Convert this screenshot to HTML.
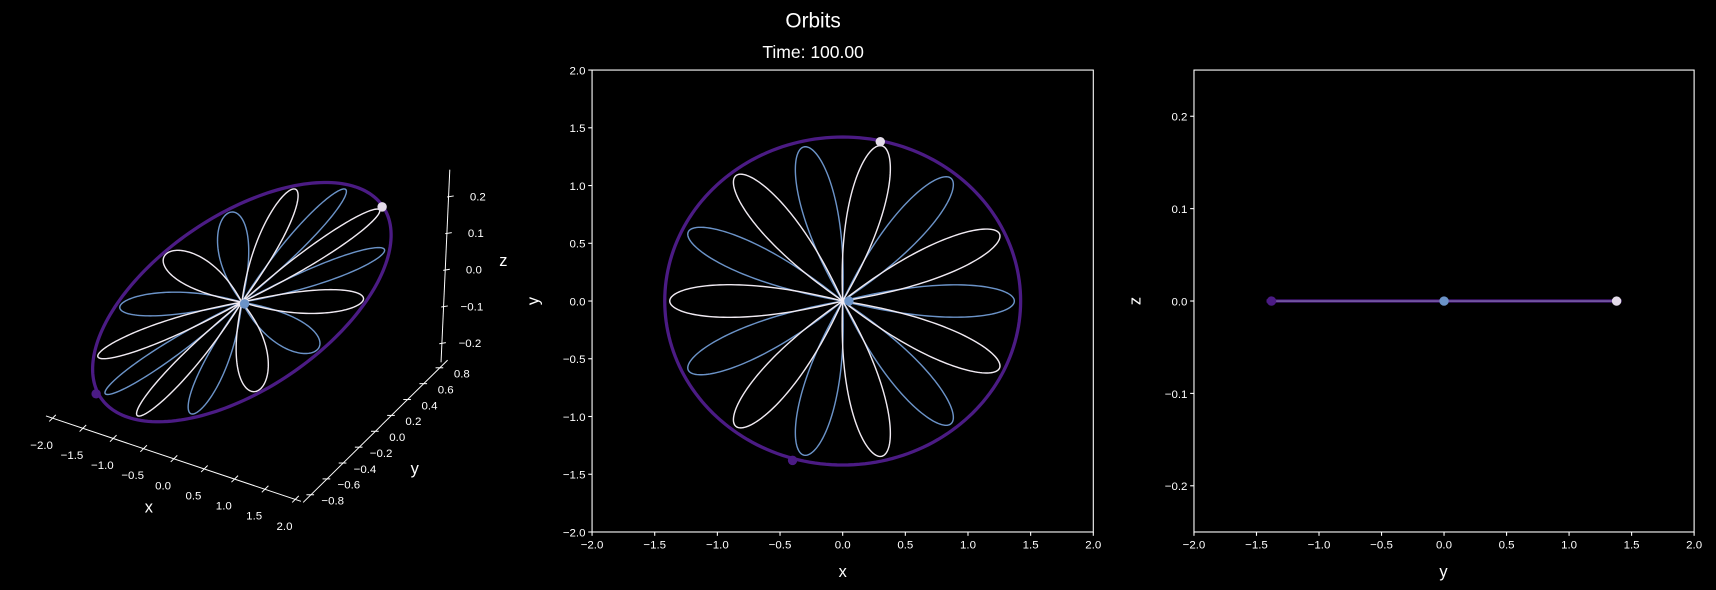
<!DOCTYPE html>
<html><head><meta charset="utf-8"><style>
html,body{margin:0;padding:0;background:#000;}
svg{display:block;font-family:"Liberation Sans","DejaVu Sans",sans-serif;}
</style></head><body>
<svg id="fig" width="1716" height="590" viewBox="0 0 1568 539" preserveAspectRatio="none" xmlns="http://www.w3.org/2000/svg">
<rect width="1568" height="539" fill="#000"/>
<text x="743" y="25" fill="#fff" font-size="19" text-anchor="middle">Orbits</text>
<text x="743" y="53" fill="#fff" font-size="16" text-anchor="middle">Time: 100.00</text>
<g id="g3d"></g>
<g id="g2d"></g>
<g id="gyz"></g>
</svg>
<script>
const whiteAngles = [25, 77, 128, 180, 232, 283, 335];
const blueAngles = [0, 51, 103, 154, 206, 257, 309];
const petalRadius = [1.38, 1.37];
const orbitRadius = [1.42];
const bodyWhite = [0.30, 1.38, 0];
const bodyBlue = [0.05, 0, 0];
const bodyPurple = [-0.40, -1.38, 0];
const xyTicks = [-2.0, -1.5, -1.0, -0.5, 0.0, 0.5, 1.0, 1.5, 2.0];
const zTicks = [-0.2, -0.1, 0.0, 0.1, 0.2];
const yTicks3d = [-0.8, -0.6, -0.4, -0.2, 0.0, 0.2, 0.4, 0.6, 0.8];

const NS = 'http://www.w3.org/2000/svg';
const C_PURPLE = '#4b1b84', C_BLUE = '#6b93c8', C_WHITE = '#f0eaf2';
function el(tag, attrs, parent){const e=document.createElementNS(NS,tag);for(const k in attrs)e.setAttribute(k,attrs[k]);parent.appendChild(e);return e;}
function fmt(v){return (v<0?'\u2212':'')+Math.abs(v).toFixed(1);}
function petal(phiDeg,R){const m=6,pts=[],phi=phiDeg*Math.PI/180,lim=Math.PI/(2*m);
  for(let i=0;i<=100;i++){const t=-lim+2*lim*i/100;const r=R*Math.pow(Math.cos(m*t),0.8);pts.push([r*Math.cos(phi+t),r*Math.sin(phi+t)]);}return pts;}
function circle(R){const p=[];for(let i=0;i<=200;i++){const a=2*Math.PI*i/200;p.push([R*Math.cos(a),R*Math.sin(a)]);}return p;}
function pathOf(pts,fx,fy){return pts.map((p,i)=>(i?'L':'M')+fx(p).toFixed(2)+','+fy(p).toFixed(2)).join('');}

/* ---------- middle XY panel ---------- */
const g2=document.getElementById('g2d');
const mL=541,mR=999,mT=64,mB=486;
const mx=x=>mL+(x+2)/4*(mR-mL), my=y=>mB-(y+2)/4*(mB-mT);
{
  const f=el('rect',{x:mL,y:mT,width:mR-mL,height:mB-mT,fill:'none',stroke:'#fff','stroke-width':1},g2);
  
  
  xyTicks.forEach(v=>{
    const t=el('line',{x1:mx(v),x2:mx(v),y1:mB,y2:mB+3.5,stroke:'#fff','stroke-width':1},g2);
    
    
    const l=el('text',{x:mx(v),y:mB+15,fill:'#fff','font-size':10.5,'text-anchor':'middle'},g2);l.textContent=fmt(v);
    
    
    const t2=el('line',{x1:mL-3.5,x2:mL,y1:my(v),y2:my(v),stroke:'#fff','stroke-width':1},g2);
    
    
    const l2=el('text',{x:mL-6,y:my(v)+4,fill:'#fff','font-size':10.5,'text-anchor':'end'},g2);l2.textContent=fmt(v);
    
    
  });
  const xl=el('text',{x:770,y:527,fill:'#fff','font-size':15,'text-anchor':'middle'},g2);xl.textContent='x';
  
  
  const yl=el('text',{x:492,y:275,fill:'#fff','font-size':15,'text-anchor':'middle',transform:'rotate(-90 492 275)'},g2);yl.textContent='y';
  
  
  const fx=p=>mx(p[0]), fy=p=>my(p[1]);
  blueAngles.forEach(a=>{const p=el('path',{d:pathOf(petal(a,petalRadius[1]),fx,fy),fill:'none',stroke:C_BLUE,'stroke-width':1.3},g2);
    
    });
  whiteAngles.forEach(a=>{const p=el('path',{d:pathOf(petal(a,petalRadius[0]),fx,fy),fill:'none',stroke:C_WHITE,'stroke-width':1.3},g2);
    
    });
  const c=el('path',{d:pathOf(circle(orbitRadius[0]),fx,fy),fill:'none',stroke:C_PURPLE,'stroke-width':3},g2);
  
  
  [[bodyWhite,'#e4dcea','white-body'],[bodyBlue,C_BLUE,'blue-body'],[bodyPurple,C_PURPLE,'purple-body']].forEach(b=>{
    const d=el('circle',{cx:mx(b[0][0]),cy:my(b[0][1]),r:4.3,fill:b[1]},g2);
    
    });
}

/* ---------- right YZ panel ---------- */
const g3=document.getElementById('gyz');
const rL=1091,rR=1548;
const rx=y=>rL+(y+2)/4*(rR-rL), rz=z=>mB-(z+0.25)/0.5*(mB-mT);
{
  const f=el('rect',{x:rL,y:mT,width:rR-rL,height:mB-mT,fill:'none',stroke:'#fff','stroke-width':1},g3);
  
  
  xyTicks.forEach(v=>{
    const t=el('line',{x1:rx(v),x2:rx(v),y1:mB,y2:mB+3.5,stroke:'#fff','stroke-width':1},g3);
    
    
    const l=el('text',{x:rx(v),y:mB+15,fill:'#fff','font-size':10.5,'text-anchor':'middle'},g3);l.textContent=fmt(v);
    
    
  });
  zTicks.forEach(v=>{
    const t=el('line',{x1:rL-3.5,x2:rL,y1:rz(v),y2:rz(v),stroke:'#fff','stroke-width':1},g3);
    
    
    const l=el('text',{x:rL-6,y:rz(v)+4,fill:'#fff','font-size':10.5,'text-anchor':'end'},g3);l.textContent=fmt(v);
    
    
  });
  const xl=el('text',{x:1319,y:527,fill:'#fff','font-size':15,'text-anchor':'middle'},g3);xl.textContent='y';
  
  
  const zl=el('text',{x:1042,y:275,fill:'#fff','font-size':15,'text-anchor':'middle',transform:'rotate(-90 1042 275)'},g3);zl.textContent='z';
  
  
  const R=orbitRadius[0];
  const ln=el('line',{x1:rx(-R),x2:rx(R),y1:rz(0),y2:rz(0),stroke:C_PURPLE,'stroke-width':3},g3);
  
  
  const ln2=el('line',{x1:rx(-petalRadius[0]),x2:rx(petalRadius[0]),y1:rz(0),y2:rz(0),stroke:'#8a78b0','stroke-width':1},g3);
  
  
  [[bodyWhite,'#e4dcea','white-body'],[bodyBlue,C_BLUE,'blue-body'],[bodyPurple,C_PURPLE,'purple-body']].forEach(b=>{
    const d=el('circle',{cx:rx(b[0][1]),cy:rz(b[0][2]),r:4.3,fill:b[1]},g3);
    
    });
}

/* ---------- left 3D panel ---------- */
const g1=document.getElementById('g3d');
const C0=[221,276], EX=[50,32], EY=[82,-70];
const px=p=>C0[0]+p[0]*EX[0]+p[1]*EY[0], py=p=>C0[1]+p[0]*EX[1]+p[1]*EY[1];
{
  const xa=el('line',{x1:42,y1:380,x2:275,y2:458,stroke:'#fff','stroke-width':0.9},g1);
  
  
  xyTicks.forEach((v,i)=>{
    const f=(v+2)/4, tx=48+f*(270-48), ty=382+f*(456-382);
    const t=el('line',{x1:tx-3,y1:ty+3,x2:tx+3,y2:ty-3,stroke:'#fff','stroke-width':0.9},g1);
    
    
    const l=el('text',{x:tx-10,y:ty+28,fill:'#fff','font-size':10.5,'text-anchor':'middle'},g1);l.textContent=fmt(v);
    
    
  });
  const xl=el('text',{x:136,y:468,fill:'#fff','font-size':15,'text-anchor':'middle'},g1);xl.textContent='x';
  
  
  const ya=el('line',{x1:277,y1:459,x2:409,y2:329,stroke:'#fff','stroke-width':0.9},g1);
  
  
  yTicks3d.forEach(v=>{
    const f=(v+0.8)/1.6, tx=284+f*(402-284), ty=452+f*(336-452);
    const t=el('line',{x1:tx-4,y1:ty,x2:tx+3,y2:ty,stroke:'#fff','stroke-width':0.9},g1);
    
    
    const l=el('text',{x:tx+20,y:ty+9,fill:'#fff','font-size':10.5,'text-anchor':'middle'},g1);l.textContent=fmt(v);
    
    
  });
  const yl=el('text',{x:379,y:433,fill:'#fff','font-size':15,'text-anchor':'middle'},g1);yl.textContent='y';
  
  
  const za=el('line',{x1:411,y1:155,x2:403,y2:331,stroke:'#fff','stroke-width':0.9},g1);
  
  
  zTicks.forEach(v=>{
    const ty=246-v*335, tx=407+v*18;
    const t=el('line',{x1:tx-2,y1:ty+1,x2:tx+4,y2:ty,stroke:'#fff','stroke-width':0.9},g1);
    
    
    const l=el('text',{x:tx+26,y:ty+4,fill:'#fff','font-size':10.5,'text-anchor':'middle'},g1);l.textContent=fmt(v);
    
    
  });
  const zl=el('text',{x:460,y:243,fill:'#fff','font-size':15,'text-anchor':'middle'},g1);zl.textContent='z';
  
  
  blueAngles.forEach(a=>{const p=el('path',{d:pathOf(petal(a,petalRadius[1]),px,py),fill:'none',stroke:C_BLUE,'stroke-width':1.3},g1);
    
    });
  whiteAngles.forEach(a=>{const p=el('path',{d:pathOf(petal(a,petalRadius[0]),px,py),fill:'none',stroke:C_WHITE,'stroke-width':1.3},g1);
    
    });
  const c=el('path',{d:pathOf(circle(orbitRadius[0]),px,py),fill:'none',stroke:C_PURPLE,'stroke-width':3},g1);
  
  
  [[bodyWhite,'#e4dcea','white-body-3d'],[bodyBlue,C_BLUE,'blue-body-3d'],[bodyPurple,C_PURPLE,'purple-body-3d']].forEach(b=>{
    const d=el('circle',{cx:px(b[0]),cy:py(b[0]),r:4.3,fill:b[1]},g1);
    
    });
}
</script>
</body></html>
